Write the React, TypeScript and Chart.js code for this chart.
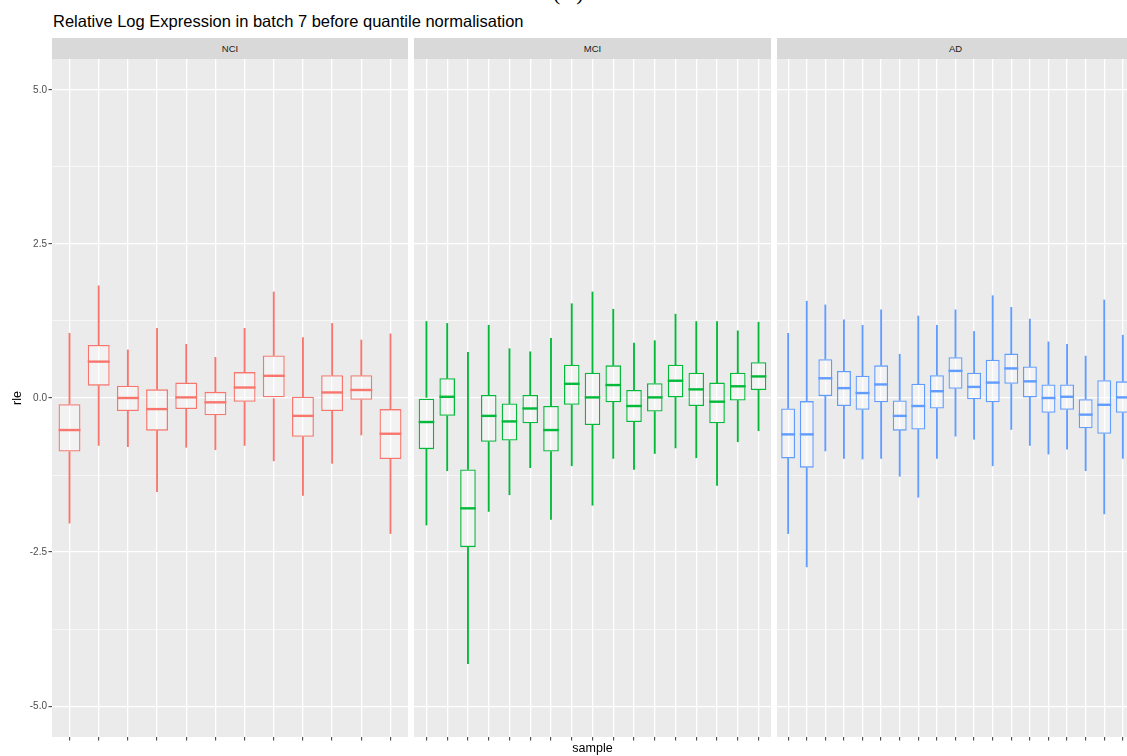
import React, { useEffect, useRef } from 'react';
import { Chart, registerables } from 'chart.js';

Chart.register(...registerables);

// ---------- data ----------
const panelNames = ['NCI', 'MCI', 'AD'];
const panelColors = ['#F8766D', '#00BA38', '#619CFF'];

const nciMin = [-2.03, -0.77, -0.79, -1.52, -0.8, -0.84, -0.77, -1.02, -1.58, -1.06, -0.6, -2.2];
const nciQ1 = [-0.87, 0.2, -0.21, -0.53, -0.18, -0.28, -0.06, 0.0, -0.63, -0.21, -0.03, -0.99];
const nciMed = [-0.52, 0.59, 0.0, -0.18, 0.01, -0.07, 0.17, 0.36, -0.29, 0.09, 0.13, -0.58];
const nciQ3 = [-0.1, 0.86, 0.2, 0.14, 0.25, 0.1, 0.42, 0.69, 0.02, 0.37, 0.37, -0.18];
const nciMax = [1.05, 1.82, 0.78, 1.13, 0.87, 0.66, 1.13, 1.72, 0.98, 1.21, 0.94, 1.04];

const mciMin = [-2.06, -1.18, -4.31, -1.84, -1.57, -1.13, -1.97, -1.1, -1.74, -0.98, -1.16, -0.9, -0.81, -0.97, -1.42, -0.71, -0.53];
const mciQ1 = [-0.83, -0.29, -2.42, -0.71, -0.69, -0.41, -0.87, -0.11, -0.44, -0.07, -0.39, -0.22, 0.01, -0.13, -0.41, -0.04, 0.13];
const mciMed = [-0.39, 0.02, -1.79, -0.29, -0.38, -0.17, -0.52, 0.23, 0.01, 0.21, -0.13, 0.01, 0.28, 0.14, -0.06, 0.19, 0.35];
const mciQ3 = [0.0, 0.32, -1.16, 0.05, -0.09, 0.05, -0.13, 0.54, 0.41, 0.53, 0.13, 0.24, 0.54, 0.41, 0.25, 0.41, 0.58];
const mciMax = [1.24, 1.21, 0.74, 1.18, 0.8, 0.75, 0.97, 1.53, 1.72, 1.44, 0.89, 0.93, 1.36, 1.24, 1.24, 1.09, 1.23];

const adMin = [-2.2, -2.74, -0.86, -0.98, -0.99, -0.98, -1.27, -1.61, -0.98, -0.62, -0.67, -1.1, -0.51, -0.77, -0.91, -0.83, -1.18, -1.88, -0.98];
const adQ1 = [-0.98, -1.13, 0.03, -0.13, -0.19, -0.07, -0.53, -0.51, -0.17, 0.15, -0.02, -0.07, 0.23, 0.01, -0.24, -0.19, -0.49, -0.58, -0.24];
const adMed = [-0.59, -0.59, 0.32, 0.16, 0.08, 0.22, -0.29, -0.13, 0.11, 0.44, 0.18, 0.25, 0.48, 0.27, 0.0, 0.02, -0.27, -0.11, 0.01];
const adQ3 = [-0.17, -0.05, 0.63, 0.44, 0.36, 0.53, -0.04, 0.23, 0.37, 0.66, 0.41, 0.62, 0.72, 0.51, 0.22, 0.22, -0.02, 0.29, 0.27];
const adMax = [1.05, 1.57, 1.51, 1.27, 1.18, 1.43, 0.71, 1.33, 1.18, 1.43, 1.08, 1.66, 1.47, 1.28, 0.91, 0.87, 0.68, 1.59, 1.02];

const yTickValues = [-5, -3.75, -2.5, -1.25, 0, 1.25, 2.5, 3.75, 5];
const yMin = -5.5;
const yMax = 5.5;

const titleText = 'Relative Log Expression in batch 7 before quantile normalisation';
const xTitle = 'sample';
const yTitle = 'rle';

const FONT = "'Liberation Sans', Arial, Helvetica, sans-serif";

const isMajor = (v: number) => Math.abs(v / 2.5 - Math.round(v / 2.5)) < 1e-6;

const panelBg = {
  id: 'panelBg',
  beforeDraw(chart: any) {
    const { ctx, chartArea } = chart;
    ctx.save();
    ctx.fillStyle = '#EBEBEB';
    ctx.fillRect(chartArea.left, chartArea.top, chartArea.width, chartArea.height);
    ctx.restore();
  },
};

type PanelProps = {
  mins: number[];
  q1: number[];
  med: number[];
  q3: number[];
  maxs: number[];
  color: string;
  showY: boolean;
  left: number;
  width: number;
  top: number;
  height: number;
};

function Panel(props: PanelProps) {
  const ref = useRef<HTMLCanvasElement | null>(null);
  useEffect(() => {
    const { mins, q1, med, q3, maxs, color, showY } = props;
    const n = med.length;
    const xs = med.map((_, i) => i + 1);
    const chart = new Chart(ref.current as HTMLCanvasElement, {
      type: 'bar',
      data: {
        datasets: [
          {
            type: 'bar',
            label: 'lower whisker',
            order: 3,
            data: xs.map((x, i) => ({ x, y: [mins[i], q1[i]] })) as any,
            backgroundColor: color,
            borderWidth: 0,
            barThickness: 1.2,
            grouped: false,
          } as any,
          {
            type: 'bar',
            label: 'upper whisker',
            order: 3,
            data: xs.map((x, i) => ({ x, y: [q3[i], maxs[i]] })) as any,
            backgroundColor: color,
            borderWidth: 0,
            barThickness: 1.2,
            grouped: false,
          } as any,
          {
            type: 'bar',
            label: 'box',
            order: 2,
            data: xs.map((x, i) => ({ x, y: [q1[i], q3[i]] })) as any,
            backgroundColor: 'rgba(255,255,255,0.35)',
            borderColor: color,
            borderWidth: 1.3,
            borderSkipped: false,
            barPercentage: 0.75,
            categoryPercentage: 1,
            grouped: false,
          } as any,
          {
            type: 'scatter',
            label: 'median',
            order: 1,
            data: xs.map((x, i) => ({ x, y: med[i] })),
            pointStyle: 'line',
            pointBorderColor: color,
            pointBackgroundColor: color,
            pointBorderWidth: 2.4,
            pointRadius: (c: any) => {
              const s = c.chart.scales.x;
              return s.getPixelForValue(1.375) - s.getPixelForValue(1);
            },
          } as any,
        ],
      },
      options: {
        animation: false,
        responsive: false,
        maintainAspectRatio: false,
        events: [],
        layout: { padding: 0 },
        plugins: { legend: { display: false }, tooltip: { enabled: false }, title: { display: false } },
        scales: {
          x: {
            type: 'linear',
            offset: false,
            min: 0.4,
            max: n + 0.6,
            afterBuildTicks: (ax: any) => {
              ax.ticks = xs.map((v) => ({ value: v }));
            },
            ticks: { callback: () => '', autoSkip: false, padding: 0, font: { size: 1 } },
            grid: { offset: false, color: '#FFFFFF', lineWidth: 1.3, tickColor: '#333333', tickLength: 3.5, tickWidth: 1 },
            border: { display: false },
            afterFit: (s: any) => {
              s.height = 10;
              s.paddingLeft = 0;
              s.paddingRight = 0;
            },
          } as any,
          y: {
            type: 'linear',
            min: yMin,
            max: yMax,
            afterBuildTicks: (ax: any) => {
              ax.ticks = yTickValues.map((v) => ({ value: v }));
            },
            ticks: {
              display: showY,
              autoSkip: false,
              color: '#4D4D4D',
              padding: 1.5,
              font: { family: FONT, size: 10 },
              callback: (v: any) => (isMajor(Number(v)) ? Number(v).toFixed(1) : ''),
            },
            grid: {
              color: '#FFFFFF',
              lineWidth: (c: any) => (c.tick && isMajor(c.tick.value) ? 1.3 : 0.6),
              tickColor: (c: any) => (showY && c.tick && isMajor(c.tick.value) ? '#333333' : 'rgba(0,0,0,0)'),
              tickLength: 3.5,
              tickWidth: 1,
              drawTicks: showY,
            },
            border: { display: false },
            title: {
              display: showY,
              text: yTitle,
              color: '#000000',
              font: { family: FONT, size: 12.5 },
              padding: { top: 10, bottom: 0 },
            },
            afterFit: (s: any) => {
              s.width = showY ? 52 : 0;
              s.paddingTop = 0;
              s.paddingBottom = 0;
            },
          } as any,
        },
      },
      plugins: [panelBg],
    });
    return () => chart.destroy();
  }, []);
  return (
    <canvas
      ref={ref}
      width={props.width}
      height={props.height}
      style={{ position: 'absolute', left: props.left, top: props.top, width: props.width, height: props.height }}
    />
  );
}

const stripStyle = (left: number, width: number): React.CSSProperties => ({
  position: 'absolute',
  left,
  top: 38,
  width,
  height: 21,
  background: '#D9D9D9',
  color: '#1A1A1A',
  fontFamily: FONT,
  fontSize: 9.5,
  lineHeight: '21px',
  textAlign: 'center',
});

export default function App() {
  const panelTop = 59;
  const canvasH = 678 + 10;
  const lefts = [52, 414, 777];
  const widths = [356, 357, 357];
  return (
    <div
      style={{
        position: 'fixed',
        left: 0,
        top: 0,
        width: 1127,
        height: 756,
        overflow: 'hidden',
        background: '#FFFFFF',
      }}
    >
      <div
        style={{
          position: 'absolute',
          left: 553,
          top: -18,
          fontFamily: "'Liberation Serif', serif",
          fontSize: 22,
          lineHeight: '22px',
          color: '#000',
          whiteSpace: 'nowrap',
        }}
      >
        (A)
      </div>
      <div
        style={{
          position: 'absolute',
          left: 53,
          top: 13,
          fontFamily: FONT,
          fontSize: 16.5,
          lineHeight: '16px',
          color: '#000',
          whiteSpace: 'nowrap',
        }}
      >
        {titleText}
      </div>
      {panelNames.map((name, i) => (
        <div key={name} style={stripStyle(lefts[i], widths[i])}>
          {name}
        </div>
      ))}
      <Panel mins={nciMin} q1={nciQ1} med={nciMed} q3={nciQ3} maxs={nciMax} color={panelColors[0]} showY={true}
        left={0} width={52 + widths[0]} top={panelTop} height={canvasH} />
      <Panel mins={mciMin} q1={mciQ1} med={mciMed} q3={mciQ3} maxs={mciMax} color={panelColors[1]} showY={false}
        left={lefts[1]} width={widths[1]} top={panelTop} height={canvasH} />
      <Panel mins={adMin} q1={adQ1} med={adMed} q3={adQ3} maxs={adMax} color={panelColors[2]} showY={false}
        left={lefts[2]} width={widths[2]} top={panelTop} height={canvasH} />
      <div
        style={{
          position: 'absolute',
          left: 52,
          width: 1081,
          top: 742,
          textAlign: 'center',
          fontFamily: FONT,
          fontSize: 12.5,
          lineHeight: '12px',
          color: '#000',
        }}
      >
        {xTitle}
      </div>
    </div>
  );
}
